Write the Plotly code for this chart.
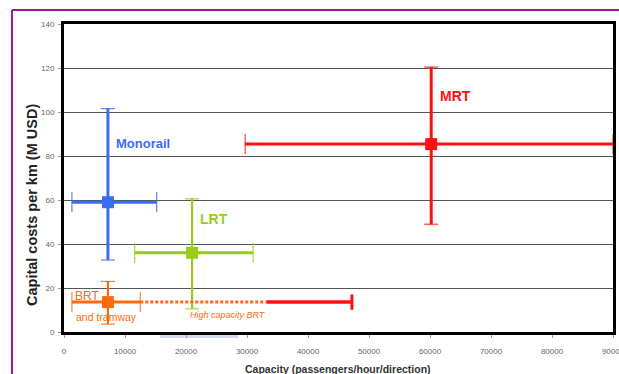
import plotly.graph_objects as go

# Capacity (passengers/hour/direction) vs capital cost per km (M USD)
modes = ["Monorail", "LRT", "BRT", "MRT"]
colors = ["#3a6ef0", "#99cc1a", "#ff6a10", "#ff1010"]
cap_mid = [7200, 21000, 7200, 60200]
cap_low = [1300, 11600, 1300, 29700]
cap_high = [15200, 31000, 12500, 90000]
cost_mid = [59, 36, 13.6, 85.4]
cost_low = [32.7, 10.5, 3.6, 49]
cost_high = [101.5, 60.5, 23, 120.4]

# High-capacity BRT extension: dotted span, then solid span
brt_hc_cap = [12500, 33200, 47200]
brt_hc_cost = 13.6

x_ticks = [0, 10000, 20000, 30000, 40000, 50000, 60000, 70000, 80000, 90000]
y_ticks = [0, 20, 40, 60, 80, 100, 120, 140]

W, H = 619, 374
L, R, T, B = 64, 6, 24, 42
pw, ph = W - L - R, H - T - B


def px(xp):
    return (xp - L) / pw


def py(yp):
    return (H - B - yp) / ph


fig = go.Figure()

stem_w_v = [3, 2.2, 2.2, 3]
for i, m in enumerate(modes):
    c = colors[i]
    # whiskers with caps
    fig.add_trace(go.Scatter(
        x=[cap_mid[i]], y=[cost_mid[i]], mode="markers",
        marker=dict(size=1, color=c, opacity=0),
        error_x=dict(type="data", symmetric=False,
                     array=[cap_high[i] - cap_mid[i]],
                     arrayminus=[cap_mid[i] - cap_low[i]],
                     color=c, thickness=1, width=10),
        error_y=dict(type="data", symmetric=False,
                     array=[cost_high[i] - cost_mid[i]],
                     arrayminus=[cost_mid[i] - cost_low[i]],
                     color=c, thickness=1, width=7),
        cliponaxis=False, showlegend=False, hoverinfo="skip"))
    # thick stems
    fig.add_trace(go.Scatter(
        x=[cap_low[i], cap_high[i]], y=[cost_mid[i], cost_mid[i]],
        mode="lines", line=dict(color=c, width=3),
        cliponaxis=False, showlegend=False, hoverinfo="skip"))
    fig.add_trace(go.Scatter(
        x=[cap_mid[i], cap_mid[i]], y=[cost_low[i], cost_high[i]],
        mode="lines", line=dict(color=c, width=stem_w_v[i]),
        cliponaxis=False, showlegend=False, hoverinfo="skip"))

# High capacity BRT
fig.add_trace(go.Scatter(
    x=brt_hc_cap[:2], y=[brt_hc_cost] * 2, mode="lines",
    line=dict(color=colors[2], width=3, dash="3px,2px"),
    showlegend=False, hoverinfo="skip"))
fig.add_trace(go.Scatter(
    x=brt_hc_cap[1:], y=[brt_hc_cost] * 2, mode="lines",
    line=dict(color=colors[3], width=3.5),
    showlegend=False, hoverinfo="skip"))
fig.add_trace(go.Scatter(
    x=[brt_hc_cap[2]], y=[brt_hc_cost], mode="markers",
    marker=dict(symbol="line-ns", size=11, line=dict(color=colors[3], width=3)),
    showlegend=False, hoverinfo="skip"))

# centre markers
for i, m in enumerate(modes):
    fig.add_trace(go.Scatter(
        x=[cap_mid[i]], y=[cost_mid[i]], mode="markers",
        marker=dict(symbol="square", size=12, color=colors[i]),
        showlegend=False, hoverinfo="skip"))

lab = dict(family="Liberation Sans, Arial, sans-serif")
annotations = [
    dict(x=12950, y=85.5, text="<b>Monorail</b>", font=dict(size=13, color=colors[0], **lab)),
    dict(x=64260, y=107.3, text="<b>MRT</b>", font=dict(size=14, color=colors[3], **lab)),
    dict(x=24590, y=51.4, text="<b>LRT</b>", font=dict(size=14, color=colors[1], **lab)),
    dict(x=3770, y=16.4, text="BRT", font=dict(size=12, color=colors[2], **lab)),
    dict(x=6885, y=7.0, text="and tramway", font=dict(size=10.5, color=colors[2], **lab)),
    dict(x=26885, y=7.7, text="<i>High capacity BRT</i>", font=dict(size=9, color=colors[2], **lab)),
]
for a in annotations:
    a.update(xref="x", yref="y", showarrow=False, xanchor="center", yanchor="middle")

annotations.append(dict(
    xref="paper", yref="paper", x=px(32), y=py(205), textangle=-90,
    text="<b>Capital costs per km (M USD)</b>", showarrow=False,
    font=dict(size=14.5, color="#222", **lab), xanchor="center", yanchor="middle"))
annotations.append(dict(
    xref="paper", yref="paper", x=px(338), y=py(369),
    text="<b>Capacity (passengers/hour/direction)</b>", showarrow=False,
    font=dict(size=10.5, color="#333", **lab), xanchor="center", yanchor="middle"))

shapes = [
    # purple page frame
    dict(type="line", xref="paper", yref="paper", x0=px(12), x1=px(640),
         y0=py(10), y1=py(10), line=dict(color="#a0169c", width=2)),
    dict(type="line", xref="paper", yref="paper", x0=px(12), x1=px(12),
         y0=py(10), y1=py(400), line=dict(color="#a0169c", width=2)),
    # pale band under the axis
    dict(type="rect", xref="paper", yref="paper", x0=px(160), x1=px(238),
         y0=py(338), y1=py(333.5), line=dict(width=0), fillcolor="#d4d8f6", layer="below"),
]

fig.update_layout(
    width=W, height=H,
    margin=dict(l=L, r=R, t=T, b=B, autoexpand=False),
    paper_bgcolor="white", plot_bgcolor="white",
    annotations=annotations, shapes=shapes,
    xaxis=dict(range=[0, 90000], tickvals=x_ticks, ticktext=[str(v) for v in x_ticks],
               showgrid=False, zeroline=False, automargin=False,
               showline=True, linewidth=3, linecolor="black", mirror=True,
               ticks="outside", ticklen=3, tickcolor="#999", ticklabelstandoff=6,
               ticklabeloverflow="allow",
               tickfont=dict(size=8, color="#666", **lab)),
    yaxis=dict(range=[0, 140], tickvals=y_ticks, automargin=False,
               showgrid=True, gridcolor="#555", gridwidth=1, zeroline=False,
               showline=True, linewidth=3, linecolor="black", mirror=True,
               ticks="outside", ticklen=3, tickcolor="#999", ticklabelstandoff=2,
               tickfont=dict(size=8, color="#666", **lab)),
)

fig.write_html("out.html")
